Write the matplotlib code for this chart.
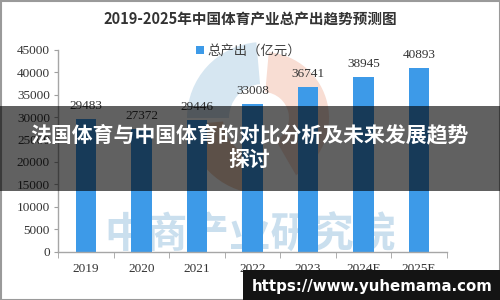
import matplotlib
matplotlib.use("Agg")
import matplotlib.pyplot as plt
from matplotlib.patches import Rectangle, Wedge

years = ["2019", "2020", "2021", "2022", "2023", "2024E", "2025E"]
output = [29483, 27372, 29446, 33008, 36741, 38945, 40893]
yticks = [0, 5000, 10000, 15000, 20000, 25000, 30000, 35000, 40000, 45000]

title = "2019-2025年中国体育产业总产出趋势预测图"
legend_label = "总产出（亿元）"
source = "制图：中商情报网（WWW.ASKCI.COM）"
watermark = "中商产业研究院"
banner = "法国体育与中国体育的对比分析及未来发展趋势\n探讨"
url = "https://www.yuhemama.com"

cjk = ["Noto Sans CJK SC", "DejaVu Sans"]
num_font = ["Liberation Serif", "DejaVu Serif"]
bar_color = "#3d9ae8"

fig = plt.figure(figsize=(5, 3), dpi=100, facecolor="white")

# background layer: faint logo + watermark (pixel coords)
bg = fig.add_axes([0, 0, 1, 1])
bg.set_zorder(0)
bg.set_xlim(0, 500)
bg.set_ylim(300, 0)
bg.axis("off")
cx, cy = 263, 118
bg.add_patch(Wedge((cx, cy), 76, 180, 265, width=42, color="#d6e6f1", lw=0))
bg.add_patch(Wedge((cx, cy), 66, -85, 60, width=40, color="#f8ddd3", lw=0))
bg.add_patch(Wedge((cx, cy), 76, 95, 175, width=36, color="#f3d2bd", lw=0))
bg.text(250, 236, watermark, ha="center", va="center", fontsize=30,
        family=cjk, weight="bold", color="#cadfee")
bg.text(385, 280, source, ha="center", va="center", fontsize=8.6,
        family=cjk, color="#606060")

# main chart
ax = fig.add_axes([0.1166, 0.161, 0.7768, 0.6733])
ax.set_zorder(1)
ax.patch.set_visible(False)
x = list(range(len(years)))
ax.bar(x, output, width=0.37, color=bar_color, label=legend_label, zorder=2)
for i, v in zip(x, output):
    ax.annotate(str(v), (i, v), xytext=(0, 5), textcoords="offset points",
                ha="center", va="bottom", fontsize=9.5, family=num_font, color="#333333")

ax.set_xlim(-0.5, len(years) - 0.5)
ax.set_ylim(0, 45000)
ax.set_yticks(yticks)
ax.set_yticklabels([str(t) for t in yticks], family=num_font, fontsize=9.5, color="#333333")
ax.set_xticks(x)
ax.set_xticklabels(years, family=num_font, fontsize=9.5, color="#333333")
ax.set_xticks([i - 0.5 for i in range(len(years) + 1)], minor=True)
ax.tick_params(axis="x", which="major", length=0, pad=8)
ax.tick_params(axis="x", which="minor", length=4, color="#a0a0a0", direction="out")
ax.tick_params(axis="y", length=3, color="#a0a0a0", pad=3)
for s in ["top", "right"]:
    ax.spines[s].set_visible(False)
for s in ["left", "bottom"]:
    ax.spines[s].set_color("#a6a6a6")
    ax.spines[s].set_linewidth(1)

ax.legend(loc="center", bbox_to_anchor=(0.49, 0.995), frameon=False,
          prop={"family": cjk, "size": 9.6}, handlelength=0.6, handleheight=0.6,
          handletextpad=0.3, labelcolor="#404040")

fig.text(0.5, 1 - 20 / 300, title, ha="center", va="center", fontsize=10.5,
         family=cjk, weight="bold", color="#333333")

# overlay layer: banner, url box, border
top = fig.add_axes([0, 0, 1, 1])
top.set_zorder(3)
top.patch.set_visible(False)
top.set_xlim(0, 500)
top.set_ylim(300, 0)
top.axis("off")
top.add_patch(Rectangle((0.5, 0.5), 499, 299, fill=False, ec="#9a9a9a", lw=1.5))
top.add_patch(Rectangle((0, 106), 500, 85, color="black", alpha=0.62, lw=0))
top.text(249, 148, banner, ha="center", va="center", fontsize=15, family=cjk,
         weight="bold", color="white", linespacing=1.25)
top.add_patch(Rectangle((243, 270), 257, 30, color="#141414", lw=0))
top.text(372, 286, url, ha="center", va="center", fontsize=10.8,
         family=["DejaVu Sans"], weight="bold", color="white")

fig.savefig("out.png", dpi=100)
